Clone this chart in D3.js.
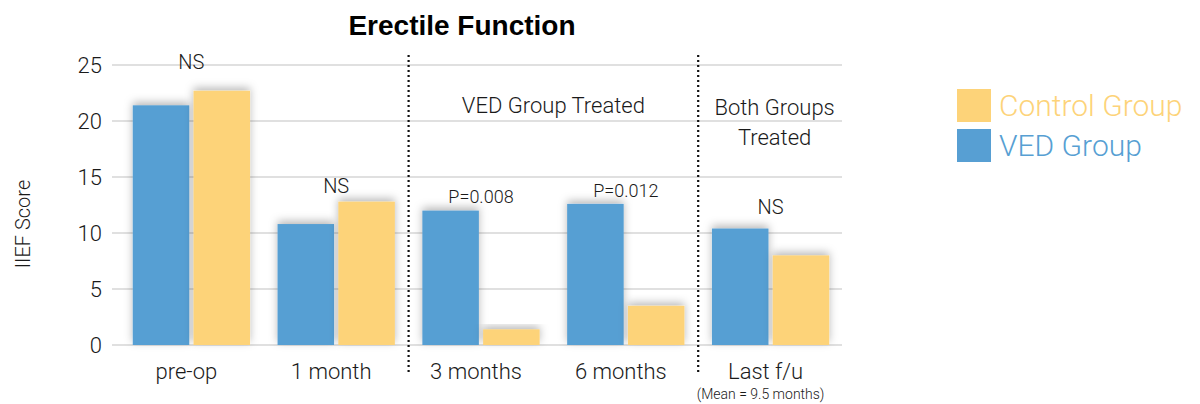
<!DOCTYPE html>
<html><head><meta charset="utf-8">
<script src="https://cdn.jsdelivr.net/npm/d3@7"></script>
<style>
body{margin:0;background:#fff;}
text{font-family:Roboto,"Liberation Sans",Arial,sans-serif;font-weight:300;}
</style></head>
<body><svg id="c" width="1200" height="404"></svg>
<script>
const categories = ["pre-op","1 month","3 months","6 months","Last f/u"];
const vedValues = [21.4, 10.8, 12.0, 12.6, 10.4];
const controlValues = [22.7, 12.8, 1.4, 3.5, 8.0];
const annotations = ["NS","NS","P=0.008","P=0.012","NS"];
const annotationLevels = [24.6, 13.6, 12.7, 13.2, 11.7];
const yTicks = [0,5,10,15,20,25];
const seriesNames = ["VED Group","Control Group"];
const legendItems = ["Control Group","VED Group"];

const colors = {"VED Group":"#579fd3","Control Group":"#fdd379"};
const FONT = "Roboto, Liberation Sans, Arial, sans-serif";
const TXT = "#1a1a1a";
const svg = d3.select("#c");

const defs = svg.append("defs");
const f = defs.append("filter").attr("id","sh").attr("x","-30%").attr("y","-30%").attr("width","160%").attr("height","160%");
f.append("feDropShadow").attr("dx",0).attr("dy",-3).attr("stdDeviation",4).attr("flood-color","#000").attr("flood-opacity",0.28);

const y = d3.scaleLinear().domain([0,25]).range([345,65]);
const x0 = d3.scaleBand().domain(categories).range([119,843]).paddingInner(0.19).paddingOuter(0.095);
const x1 = d3.scaleBand().domain(seriesNames).range([0,x0.bandwidth()]).paddingInner(0.07);

// gridlines
svg.append("g").selectAll("line").data(yTicks).join("line")
  .attr("x1",112).attr("x2",842).attr("y1",d=>y(d)).attr("y2",d=>y(d))
  .attr("stroke","#e0e0e0").attr("stroke-width",2);

// y axis labels
const yAxis = d3.axisLeft(y).tickValues(yTicks).tickSize(0).tickPadding(0);
const ya = svg.append("g").attr("transform","translate(102,0)").call(yAxis);
ya.select(".domain").remove();
ya.selectAll("text").attr("font-size",22).attr("fill",TXT).attr("font-family",FONT).attr("font-weight",300);

svg.append("text").attr("transform","translate(30,224) rotate(-90)").attr("text-anchor","middle")
  .attr("font-size",20).attr("fill",TXT).text("IIEF Score");

// title
svg.append("text").attr("x",462).attr("y",35).attr("text-anchor","middle")
  .attr("font-size",28).attr("fill","#000")
  .style("font-family","Liberation Sans, Arial, sans-serif").style("font-weight","bold").text("Erectile Function");

// bars
const rows = categories.map((c,i)=>({cat:c, vals:[{s:"VED Group",v:vedValues[i]},{s:"Control Group",v:controlValues[i]}]}));
const g = svg.append("g").selectAll("g").data(rows).join("g").attr("transform",d=>`translate(${x0(d.cat)},0)`);
g.selectAll("rect").data(d=>d.vals).join("rect")
  .attr("x",d=>x1(d.s)).attr("width",x1.bandwidth())
  .attr("y",d=>y(d.v)).attr("height",d=>y(0)-y(d.v))
  .attr("fill",d=>colors[d.s]).attr("filter","url(#sh)");

// annotations
svg.append("g").selectAll("text").data(categories).join("text")
  .attr("x",d=>x0(d)+x0.bandwidth()/2).attr("y",(d,i)=>y(annotationLevels[i]))
  .attr("text-anchor","middle").attr("font-size",(d,i)=>annotations[i]==="NS"?20:18).attr("fill",TXT)
  .text((d,i)=>annotations[i]);

// x labels
const xAxis = d3.axisBottom(x0).tickSize(0).tickPadding(0);
const xa = svg.append("g").attr("transform","translate(-5,363)").call(xAxis);
xa.select(".domain").remove();
xa.selectAll("text").attr("font-size",22).attr("fill",TXT).attr("dy","0.71em").attr("font-family",FONT).attr("font-weight",300);
svg.append("text").attr("x",x0("Last f/u")+x0.bandwidth()/2-10).attr("y",399).attr("text-anchor","middle")
  .attr("font-size",14).attr("fill",TXT).text("(Mean = 9.5 months)");

// dotted separators
const seps = [ (x0("1 month")+x0.bandwidth()+x0("3 months"))/2, (x0("6 months")+x0.bandwidth()+x0("Last f/u"))/2 ];
svg.append("g").selectAll("line").data(seps).join("line")
  .attr("x1",d=>d).attr("x2",d=>d).attr("y1",55).attr("y2",373)
  .attr("stroke","#111").attr("stroke-width",2.2).attr("stroke-dasharray","2,3");

// section labels
svg.append("text").attr("x",(x0("3 months")+x0("6 months")+x0.bandwidth())/2).attr("y",113)
  .attr("text-anchor","middle").attr("font-size",22).attr("fill",TXT).text("VED Group Treated");
const bx = x0("Last f/u")+x0.bandwidth()/2+4;
svg.append("text").attr("x",bx).attr("y",115).attr("text-anchor","middle").attr("font-size",22).attr("fill",TXT).text("Both Groups");
svg.append("text").attr("x",bx).attr("y",145).attr("text-anchor","middle").attr("font-size",22).attr("fill",TXT).text("Treated");

// legend
const lg = svg.append("g").selectAll("g").data(legendItems).join("g")
  .attr("transform",(d,i)=>`translate(957,${89+i*40})`);
lg.append("rect").attr("width",34).attr("height",33).attr("fill",d=>colors[d]);
lg.append("text").attr("x",42).attr("y",27).attr("font-size",30).attr("fill",d=>colors[d]).text(d=>d);
</script></body></html>
